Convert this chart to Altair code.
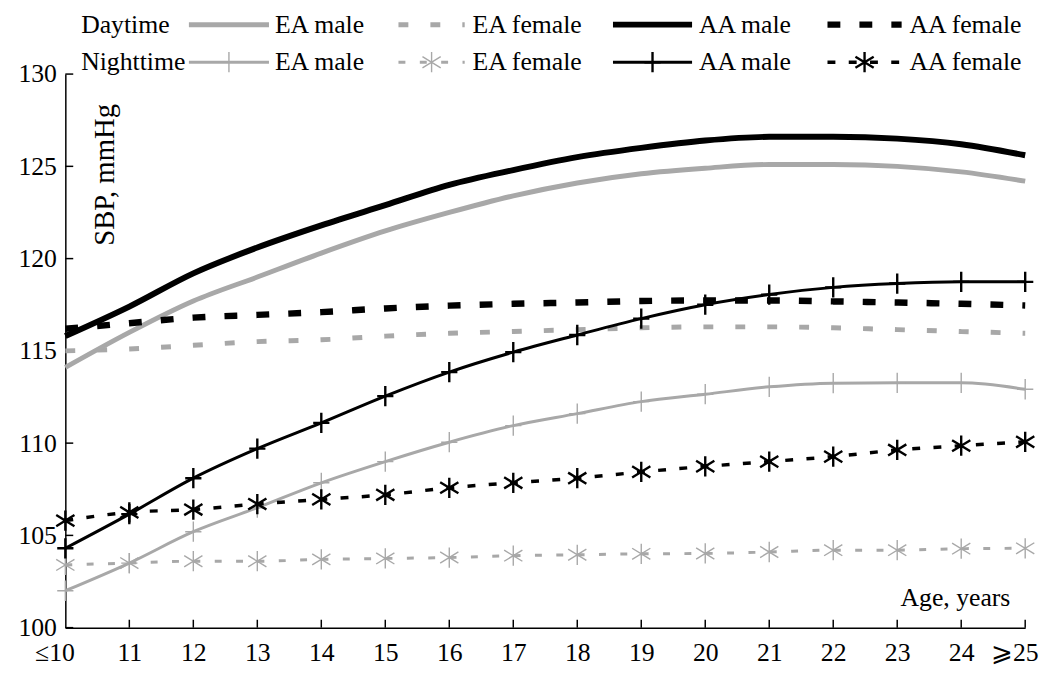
import json
import altair as alt
import pandas as pd

# ---------------- data ----------------
ages = list(range(10, 26))
x_labels = ["≤10", "11", "12", "13", "14", "15", "16", "17", "18", "19",
            "20", "21", "22", "23", "24", "⩾25"]
y_ticks = [100, 105, 110, 115, 120, 125, 130]

day_ea_male = [114.1, 116.0, 117.7, 119.0, 120.3, 121.5, 122.5, 123.4, 124.1, 124.6,
               124.9, 125.1, 125.1, 125.0, 124.7, 124.2]
day_ea_female = [115.0, 115.1, 115.3, 115.5, 115.6, 115.8, 115.95, 116.05, 116.15, 116.25,
                 116.3, 116.3, 116.25, 116.15, 116.05, 115.95]
day_aa_male = [115.8, 117.4, 119.2, 120.6, 121.8, 122.9, 124.0, 124.8, 125.5, 126.0,
               126.4, 126.6, 126.6, 126.5, 126.2, 125.6]
day_aa_female = [116.2, 116.5, 116.8, 116.95, 117.1, 117.3, 117.45, 117.55, 117.62, 117.7,
                 117.73, 117.73, 117.68, 117.62, 117.55, 117.46]
night_ea_male = [102.0, 103.5, 105.2, 106.5, 107.85, 109.0, 110.05, 110.95, 111.6, 112.25,
                 112.65, 113.05, 113.25, 113.27, 113.27, 112.92]
night_ea_female = [103.4, 103.5, 103.6, 103.6, 103.7, 103.75, 103.8, 103.9, 103.95, 104.0,
                   104.02, 104.1, 104.2, 104.2, 104.28, 104.3]
night_aa_male = [104.3, 106.15, 108.1, 109.7, 111.1, 112.55, 113.85, 114.93, 115.86, 116.75,
                 117.5, 118.05, 118.44, 118.65, 118.74, 118.74]
night_aa_female = [105.8, 106.25, 106.4, 106.7, 106.95, 107.2, 107.58, 107.85, 108.1, 108.44,
                   108.74, 109.0, 109.27, 109.63, 109.86, 110.07]

series_names = ["day_ea_male", "day_ea_female", "day_aa_male", "day_aa_female",
                "night_ea_male", "night_ea_female", "night_aa_male", "night_aa_female"]
series_values = [day_ea_male, day_ea_female, day_aa_male, day_aa_female,
                 night_ea_male, night_ea_female, night_aa_male, night_aa_female]
legend_rows = ["Daytime", "Nighttime"]
legend_labels = ["EA male", "EA female", "AA male", "AA female"]
y_title = "SBP, mmHg"
x_title = "Age, years"

rows = []
for name, vals in zip(series_names, series_values):
    for a, v in zip(ages, vals):
        rows.append({"age": a, "sbp": v, "series": name})
df = pd.DataFrame(rows)

# ---------------- styles ----------------
W, H = 971, 560
FONT = "Liberation Serif"
GRAY = "#a8a8a8"
BLACK = "#000000"
PLUS = "M-0.8,0H0.8M0,-1V1"
STAR = "M0,-1V1M-0.9,-0.55L0.9,0.55M-0.9,0.55L0.9,-0.55"

styles = {
    "day_ea_male": dict(color=GRAY, width=5, dash=None, marker=None),
    "day_ea_female": dict(color=GRAY, width=5, dash=[10, 22.3], marker=None),
    "day_aa_male": dict(color=BLACK, width=6, dash=None, marker=None),
    "day_aa_female": dict(color=BLACK, width=6.5, dash=[13, 19.3], marker=None),
    "night_ea_male": dict(color=GRAY, width=3, dash=None, marker=PLUS, mw=1.4),
    "night_ea_female": dict(color=GRAY, width=3, dash=[7, 14.6], marker=STAR, mw=1.4),
    "night_aa_male": dict(color=BLACK, width=3, dash=None, marker=PLUS, mw=2.4),
    "night_aa_female": dict(color=BLACK, width=3.5, dash=[8, 13.5], marker=STAR, mw=2.4),
}

xs = alt.Scale(domain=[10, 25], nice=False, zero=False)
ys = alt.Scale(domain=[100, 130], nice=False, zero=False)

xaxis = alt.Axis(
    values=ages,
    labelExpr=f"{json.dumps(x_labels, ensure_ascii=False)}[datum.value - 10]",
    ticks=False, grid=False, title=None,
    domainColor="black", domainWidth=1.5,
    labelFont=FONT, labelFontSize=26, labelColor="black",
    labelPadding=12, labelFlush=False,
    labelOffset={"condition": {"test": "datum.value == 10 || datum.value == 25", "value": -11},
                 "value": 0},
)
yaxis = alt.Axis(
    values=y_ticks, ticks=False, grid=False, title=None,
    domainColor="black", domainWidth=1.5,
    labelFont=FONT, labelFontSize=26, labelColor="black", labelPadding=9,
)

base = alt.Chart(df)
X = alt.X("age:Q", scale=xs, axis=xaxis)
Y = alt.Y("sbp:Q", scale=ys, axis=yaxis)

layers = []

# inward axis ticks
layers.append(
    alt.Chart(pd.DataFrame({"sbp": y_ticks})).mark_rule(color="black", strokeWidth=1.5)
    .encode(y=Y, x=alt.value(0), x2=alt.value(8))
)
layers.append(
    alt.Chart(pd.DataFrame({"age": ages[1:]})).mark_rule(color="black", strokeWidth=1.5)
    .encode(x=X, y=alt.value(H), y2=alt.value(H - 8))
)

draw_order = ["night_ea_female", "night_ea_male", "day_ea_female", "day_ea_male",
              "night_aa_female", "night_aa_male", "day_aa_female", "day_aa_male"]
for name in draw_order:
    st = styles[name]
    kw = dict(color=st["color"], strokeWidth=st["width"], interpolate="monotone")
    if st["dash"]:
        kw["strokeDash"] = st["dash"]
    sub = base.transform_filter(alt.datum.series == name)
    layers.append(sub.mark_line(**kw).encode(x=X, y=Y))
    if st["marker"]:
        layers.append(
            sub.mark_point(shape=st["marker"], filled=False, size=420, opacity=1,
                           color=st["color"], strokeWidth=st["mw"])
            .encode(x=X, y=Y)
        )

# axis titles inside plot
one = alt.Chart(pd.DataFrame({"k": [0]}))
layers.append(
    one.mark_text(angle=270, font=FONT, fontSize=29, color="black",
                  align="center", baseline="middle")
    .encode(x=alt.value(40), y=alt.value(102), text=alt.value(y_title))
)
layers.append(
    one.mark_text(font=FONT, fontSize=26, color="black", align="right", baseline="middle")
    .encode(x=alt.value(956), y=alt.value(530), text=alt.value(x_title))
)

# custom legend above the plot
row_y = [-50, -12]
col_samples = [(125, 206), (337, 404), (554, 634), (771, 846)]
col_text = [212, 412, 641, 854]
for r, row_name in enumerate(legend_rows):
    yy = row_y[r]
    layers.append(
        one.mark_text(font=FONT, fontSize=26, color="black", align="left", baseline="middle")
        .encode(x=alt.value(16), y=alt.value(yy), text=alt.value(row_name))
    )
    for c, lab in enumerate(legend_labels):
        name = series_names[r * 4 + c]
        st = styles[name]
        x0, x1 = col_samples[c]
        kw = dict(color=st["color"], strokeWidth=st["width"])
        if st["dash"]:
            kw["strokeDash"] = st["dash"]
        layers.append(one.mark_rule(**kw).encode(x=alt.value(x0), x2=alt.value(x1),
                                                 y=alt.value(yy)))
        if st["marker"]:
            layers.append(
                one.mark_point(shape=st["marker"], filled=False, size=420, opacity=1,
                               color=st["color"], strokeWidth=st["mw"])
                .encode(x=alt.value((x0 + x1) / 2), y=alt.value(yy))
            )
        layers.append(
            one.mark_text(font=FONT, fontSize=26, color="black", align="left",
                          baseline="middle")
            .encode(x=alt.value(col_text[c]), y=alt.value(yy), text=alt.value(lab))
        )

chart = alt.layer(*layers).properties(
    width=W, height=H,
    padding={"left": 10, "top": 0, "right": 2, "bottom": 2},
    background="white",
).configure_view(stroke=None)

chart.save("out.html", embed_options={"renderer": "svg", "actions": False})
